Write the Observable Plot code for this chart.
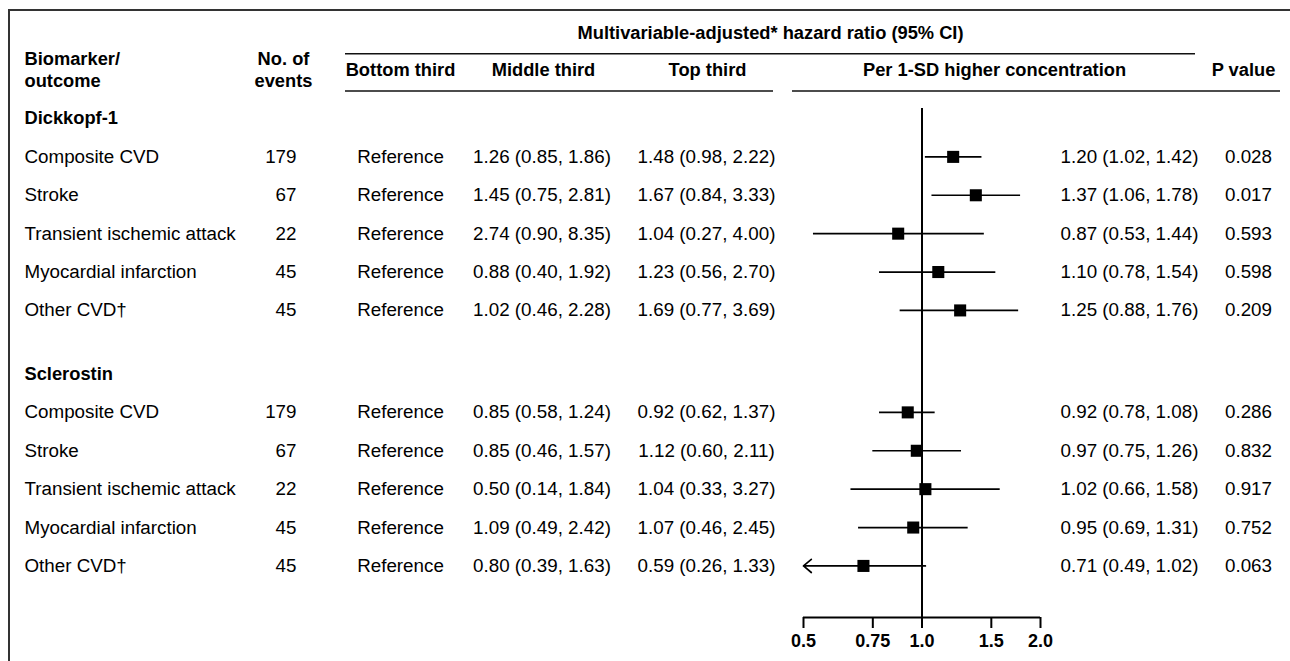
<!DOCTYPE html>
<html><head><meta charset="utf-8">
<script src="https://cdn.jsdelivr.net/npm/d3@7"></script>
<script src="https://cdn.jsdelivr.net/npm/@observablehq/plot@0.6"></script>
<style>
html,body{margin:0;padding:0;background:#fff;overflow:hidden;}
#wrap{position:relative;width:1290px;height:661px;}
#wrap svg{position:absolute;left:0;top:0;}
#border{position:absolute;left:7.5px;top:9px;right:0;bottom:-10px;border-top:2.5px solid #333;border-left:2.5px solid #333;pointer-events:none;z-index:2;}
</style></head><body><div id="wrap"><div id="border"></div></div>
<script>
// ---- data ----
const biomarkers = ["Dickkopf-1", "Sclerostin"];
const outcomes = ["Composite CVD", "Stroke", "Transient ischemic attack", "Myocardial infarction", "Other CVD\u2020"];
const events = [[179, 67, 22, 45, 45], [179, 67, 22, 45, 45]];
const midHR = [[1.26, 1.45, 2.74, 0.88, 1.02], [0.85, 0.85, 0.50, 1.09, 0.80]];
const midLo = [[0.85, 0.75, 0.90, 0.40, 0.46], [0.58, 0.46, 0.14, 0.49, 0.39]];
const midHi = [[1.86, 2.81, 8.35, 1.92, 2.28], [1.24, 1.57, 1.84, 2.42, 1.63]];
const topHR = [[1.48, 1.67, 1.04, 1.23, 1.69], [0.92, 1.12, 1.04, 1.07, 0.59]];
const topLo = [[0.98, 0.84, 0.27, 0.56, 0.77], [0.62, 0.60, 0.33, 0.46, 0.26]];
const topHi = [[2.22, 3.33, 4.00, 2.70, 3.69], [1.37, 2.11, 3.27, 2.45, 1.33]];
const sdHR = [[1.20, 1.37, 0.87, 1.10, 1.25], [0.92, 0.97, 1.02, 0.95, 0.71]];
const sdLo = [[1.02, 1.06, 0.53, 0.78, 0.88], [0.78, 0.75, 0.66, 0.69, 0.49]];
const sdHi = [[1.42, 1.78, 1.44, 1.54, 1.76], [1.08, 1.26, 1.58, 1.31, 1.02]];
const pValues = [["0.028", "0.017", "0.593", "0.598", "0.209"], ["0.286", "0.832", "0.917", "0.752", "0.063"]];
const axisTicks = [0.5, 0.75, 1.0, 1.5, 2.0];
const tickLabels = ["0.5", "0.75", "1.0", "1.5", "2.0"];

// ---- layout ----
const W = 1290, H = 661;
const rowTop = 118, axisPx = 617, nRows = 13;
const rowAt = px => (px - rowTop) * nRows / (axisPx - rowTop);
const groupStart = [0, rowAt(373.5)];
const f2 = v => v.toFixed(2);
const ci = (h, l, u) => `${f2(h)} (${f2(l)}, ${f2(u)})`;

const groups = biomarkers.map((b, g) => ({name: b, y: groupStart[g]}));
const rows = [];
biomarkers.forEach((b, g) => outcomes.forEach((o, i) => rows.push({
  y: groupStart[g] + 1 + i,
  outcome: o,
  events: events[g][i],
  mid: ci(midHR[g][i], midLo[g][i], midHi[g][i]),
  top: ci(topHR[g][i], topLo[g][i], topHi[g][i]),
  hr: sdHR[g][i], lo: sdLo[g][i], hi: sdHi[g][i],
  sd: ci(sdHR[g][i], sdLo[g][i], sdHi[g][i]),
  p: pValues[g][i]
})));
const ticks = axisTicks.map((v, i) => ({v, label: tickLabels[i]}));
const xMin = axisTicks[0], xMax = axisTicks[axisTicks.length - 1];

const FS = 18.8, FB = 18.3, C = "#000";
const col = (data, text, dx, anchor, extra = {}) =>
  Plot.text(data, {y: "y", text, frameAnchor: "left", dx, textAnchor: anchor, fontSize: FS, fill: C, ...extra});
const head = (label, px, dx, anchor) =>
  Plot.text([label], {y: () => rowAt(px), text: d => d, frameAnchor: "left", dx, textAnchor: anchor, fontSize: FB, fontWeight: "bold", fill: C});

const chart = Plot.plot({
  width: W, height: H,
  marginLeft: 0, marginRight: 0, marginTop: 0, marginBottom: 0,
  style: {fontFamily: "'Liberation Sans', Arial, Helvetica, sans-serif", fontSize: FS + "px", background: "white", color: C},
  x: {type: "log", domain: [xMin, xMax], range: [803, 1040], axis: null},
  y: {axis: null, domain: [0, nRows], range: [rowTop, axisPx]},
  marks: [
    // header
    head("Multivariable-adjusted* hazard ratio (95% CI)", 33, 770, "middle"),
    head("Biomarker/", 58.5, 24, "start"),
    head("outcome", 81, 24, "start"),
    head("No. of", 58.5, 283, "middle"),
    head("events", 81, 283, "middle"),
    head("Bottom third", 69.5, 400, "middle"),
    head("Middle third", 69.5, 543, "middle"),
    head("Top third", 69.5, 707, "middle"),
    head("Per 1-SD higher concentration", 69.5, 994, "middle"),
    head("P value", 69.5, 1243, "middle"),
    Plot.ruleY([rowAt(53.3)], {insetLeft: 345, insetRight: W - 1195, stroke: "#111", strokeWidth: 1.6}),
    Plot.ruleY([rowAt(90.5)], {insetLeft: 345, insetRight: W - 773, stroke: "#111", strokeWidth: 1.6}),
    Plot.ruleY([rowAt(90.5)], {insetLeft: 792, insetRight: W - 1280, stroke: "#111", strokeWidth: 1.6}),
    // group titles
    Plot.text(groups, {y: "y", text: "name", frameAnchor: "left", dx: 24, textAnchor: "start", fontSize: FB, fontWeight: "bold", fill: C}),
    // table columns
    col(rows, "outcome", 24, "start"),
    col(rows, d => String(d.events), 296, "end"),
    col(rows, () => "Reference", 400, "middle"),
    col(rows, "mid", 541.5, "middle"),
    col(rows, "top", 706, "middle"),
    col(rows, "sd", 1129, "middle"),
    col(rows, "p", 1248, "middle"),
    // forest
    Plot.ruleX([1], {y1: rowAt(108), y2: nRows, stroke: C, strokeWidth: 2}),
    Plot.ruleY(rows.filter(d => d.lo >= xMin), {x1: "lo", x2: "hi", y: "y", stroke: C, strokeWidth: 1.7}),
    Plot.arrow(rows.filter(d => d.lo < xMin), {x1: "hi", x2: () => xMin, y1: "y", y2: "y", stroke: C, strokeWidth: 1.7, headLength: 9, headAngle: 80}),
    Plot.dot(rows, {x: "hr", y: "y", symbol: "square", r: 6.8, fill: C, stroke: "none"}),
    // x axis (log scale)
    Plot.ruleY([{y: nRows, x1: xMin, x2: xMax}], {y: "y", x1: "x1", x2: "x2", stroke: C, strokeWidth: 2}),
    Plot.ruleX(ticks, {x: "v", y1: nRows, y2: () => rowAt(628), stroke: C, strokeWidth: 2}),
    Plot.text(ticks, {x: "v", y: () => rowAt(640.5), text: "label", fontSize: 18, fontWeight: "bold", fill: C})
  ]
});
document.getElementById("wrap").prepend(chart);
</script>
</body></html>
